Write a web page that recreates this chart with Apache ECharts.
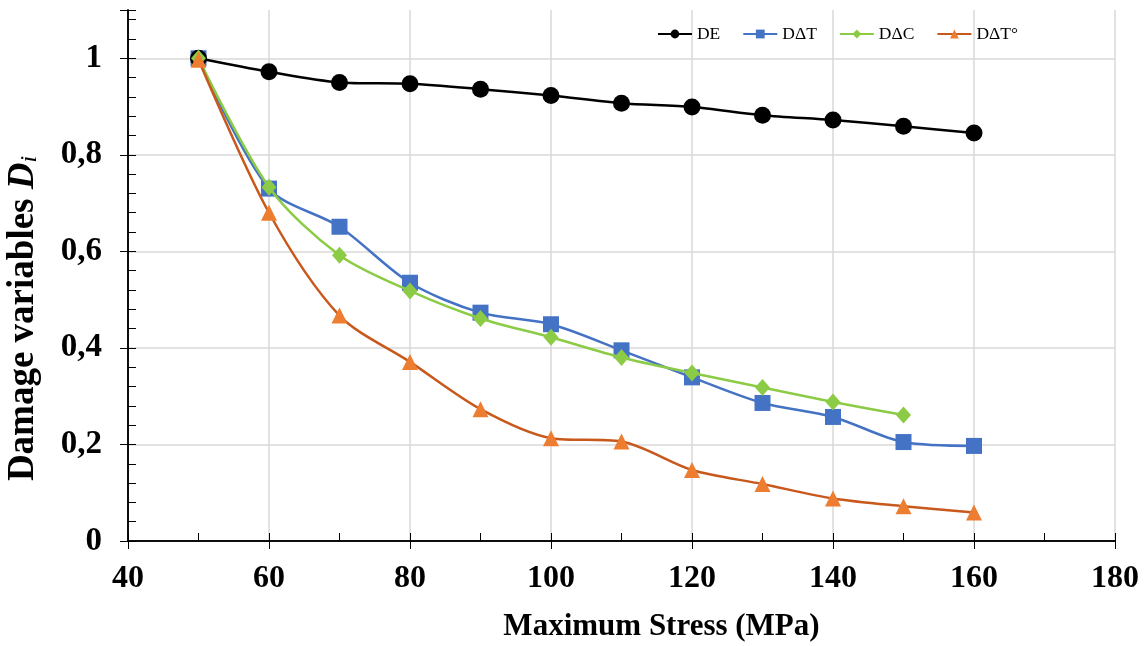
<!DOCTYPE html>
<html>
<head>
<meta charset="utf-8">
<script src="https://cdn.jsdelivr.net/npm/echarts@6/dist/echarts.min.js"></script>
<style>html,body{margin:0;padding:0;background:#fff}#c{width:1147px;height:646px}</style>
</head>
<body>
<div id="c"></div>
<script>
const stress = [50, 60, 70, 80, 90, 100, 110, 120, 130, 140, 150, 160];
const DE = [1.0, 0.972, 0.950, 0.947, 0.936, 0.923, 0.907, 0.899, 0.882, 0.872, 0.859, 0.845];
const DdT = [1.0, 0.730, 0.651, 0.535, 0.473, 0.449, 0.395, 0.339, 0.286, 0.257, 0.205, 0.197];
const DdC = [1.0, 0.733, 0.592, 0.518, 0.461, 0.422, 0.380, 0.348, 0.318, 0.288, 0.261];
const DdTo = [0.997, 0.680, 0.467, 0.371, 0.273, 0.213, 0.206, 0.147, 0.118, 0.088, 0.072, 0.059];
const names = ['DE', 'D\u0394T', 'D\u0394C', 'D\u0394T\u00b0'];

const pairs = (ys) => ys.map((v, i) => [stress[i], v]);
const font = '"Liberation Serif", "Times New Roman", serif';
const grid = {left: 128, right: 32, top: 10, bottom: 105, outerBoundsMode: 'none', containLabel: false};

const baseX = {
  type: 'value', min: 40, max: 180, interval: 20,
  axisLine: {lineStyle: {color: '#000', width: 1.5}},
};
const baseY = {
  type: 'value', min: 0, max: 1.1, interval: 0.2,
  axisLine: {show: true, lineStyle: {color: '#000', width: 1.5}},
};

const option = {
  animation: false,
  backgroundColor: '#fff',
  grid: grid,
  legend: {
    top: 20, right: 124, itemGap: 22, itemWidth: 34, itemHeight: 11,
    textStyle: {fontFamily: font, fontSize: 17.5, color: '#000'},
    data: names
  },
  xAxis: [
    Object.assign({}, baseX, {
      name: 'Maximum Stress (MPa)', nameLocation: 'middle', nameGap: 70,
      nameTextStyle: {fontFamily: font, fontWeight: 'bold', fontSize: 31, color: '#000', padding: [0, 0, 0, 80]},
      axisLabel: {fontFamily: font, fontWeight: 'bold', fontSize: 32, color: '#000', margin: 22},
      axisTick: {show: true, inside: false, length: 8, lineStyle: {color: '#000'}},
      splitLine: {show: true, lineStyle: {color: '#d9d9d9', width: 1.5}},
    }),
    Object.assign({}, baseX, {
      position: 'bottom', axisLabel: {show: false},
      axisTick: {show: true, inside: true, length: 8, lineStyle: {color: '#000'}},
      minorTick: {show: true, splitNumber: 2, length: 8, lineStyle: {color: '#000'}},
      splitLine: {show: false}
    })
  ],
  yAxis: [
    Object.assign({}, baseY, {
      name: '{a|Damage variables }{b|D}{c|i}', nameLocation: 'middle', nameGap: 86,
      nameTextStyle: {
        padding: [0, 86, 0, 0],
        rich: {
          a: {fontFamily: font, fontWeight: 'bold', fontSize: 37, color: '#000'},
          b: {fontFamily: font, fontWeight: 'bold', fontStyle: 'italic', fontSize: 37, color: '#000'},
          c: {fontFamily: font, fontStyle: 'italic', fontSize: 24, color: '#000', verticalAlign: 'bottom', padding: [12, 0, 0, 0]}
        }
      },
      axisLabel: {
        fontFamily: font, fontWeight: 'bold', fontSize: 33, color: '#000', margin: 26,
        formatter: (v) => (v > 1.05 ? '' : String(Math.round(v * 10) / 10).replace('.', ','))
      },
      axisTick: {show: true, inside: false, length: 8, lineStyle: {color: '#000'}},
      splitLine: {show: true, lineStyle: {color: ['#d9d9d9', '#d9d9d9', '#d9d9d9', '#d9d9d9', '#d9d9d9', '#d9d9d9', 'rgba(0,0,0,0)'], width: 1.5}},
    }),
    Object.assign({}, baseY, {
      position: 'left', axisLabel: {show: false},
      axisTick: {show: true, inside: true, length: 8, lineStyle: {color: '#000'}},
      minorTick: {show: true, splitNumber: 5, length: 8, lineStyle: {color: '#000'}},
      splitLine: {show: false}
    })
  ],
  series: [
    {
      name: names[0], type: 'line', data: pairs(DE), smooth: 0.3,
      symbol: 'circle', symbolSize: 17,
      lineStyle: {color: '#000', width: 2.5}, itemStyle: {color: '#000'}, z: 5
    },
    {
      name: names[1], type: 'line', data: pairs(DdT), smooth: 0.3,
      symbol: 'rect', symbolSize: 16,
      lineStyle: {color: '#4472C4', width: 2.5}, itemStyle: {color: '#4472C4'}, z: 4
    },
    {
      name: names[2], type: 'line', data: pairs(DdC), smooth: 0.3,
      symbol: 'diamond', symbolSize: [15, 17],
      lineStyle: {color: '#8CCB45', width: 2.5}, itemStyle: {color: '#8CCB45'}, z: 6
    },
    {
      name: names[3], type: 'line', data: pairs(DdTo), smooth: 0.3,
      symbol: 'triangle', symbolSize: 16,
      lineStyle: {color: '#C8581C', width: 2.5}, itemStyle: {color: '#ED7D31'}, z: 7
    }
  ]
};
echarts.init(document.getElementById('c')).setOption(option);
</script>
</body>
</html>
